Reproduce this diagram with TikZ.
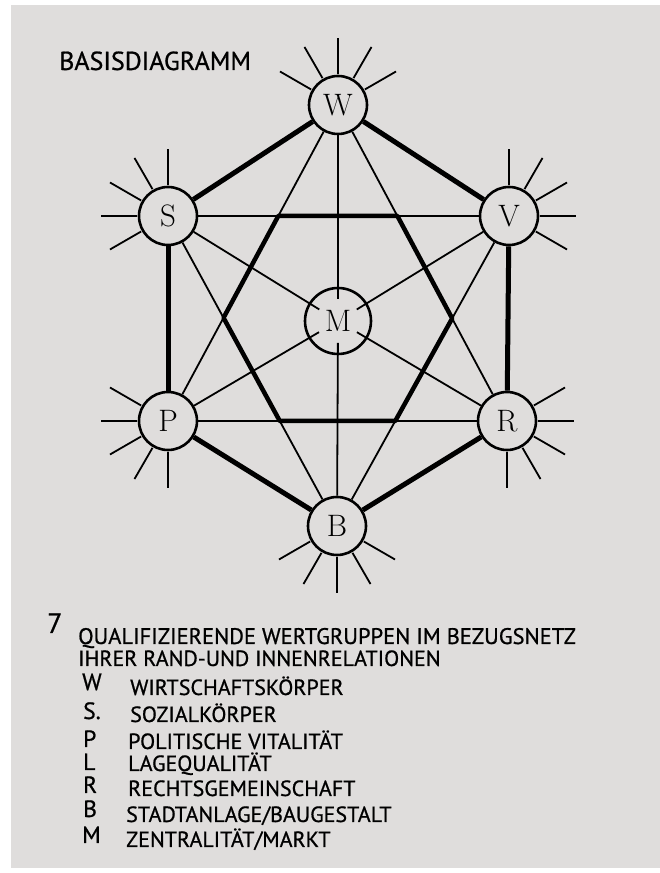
\documentclass[tikz,border=0pt]{standalone}
\usepackage{fontspec}
\usepackage{tikz}
\usetikzlibrary{calc}
\newfontfamily\handfont[FakeBold=0.8]{PT Sans}
\definecolor{paper}{RGB}{223,221,220}

\begin{document}
\begin{tikzpicture}[
        x=1pt, y=1pt,
        knot/.style={circle, draw, line width=2.6pt, minimum size=58pt, inner sep=0pt, font=\fontsize{31}{31}\selectfont},
        rim/.style={line width=5pt},
        link/.style={line width=1.8pt},
        ray/.style={line width=1.8pt},
        title/.style={anchor=base west, inner sep=0pt, text depth=0pt, font=\handfont\fontsize{26}{26}\selectfont},
        legtext/.style={anchor=base west, inner sep=0pt, text depth=0pt, text height=15pt, font=\handfont\fontsize{22}{22}\selectfont},
        legkey/.style={anchor=base west, inner sep=0pt, text depth=0pt, font=\handfont\fontsize{23.5}{23.5}\selectfont}
    ]
        % Paper
        \useasboundingbox (0,0) rectangle (660,873);
        \fill[white] (0,0) rectangle (660,873);
        \fill[paper] (11,5) rectangle (660,868);

        \node[title] (head) at (59,803) {BASISDIAGRAMM};

        % Value groups
        \node[knot] (W) at (338,768) {W};
        \node[knot] (S) at (168,657) {S};
        \node[knot] (V) at (509,657) {V};
        \node[knot, minimum size=66pt] (M) at (338,552) {M};
        \node[knot] (P) at (168,452) {P};
        \node[knot] (R) at (507,452) {R};
        \node[knot] (B) at (337,347) {B};

        % Outer hexagon
        \draw[rim] (W) -- (V);
        \draw[rim] (V) -- (R);
        \draw[rim] (R) -- (B);
        \draw[rim] (B) -- (P);
        \draw[rim] (P) -- (S);
        \draw[rim] (S) -- (W);

        % Two triangles
        \draw[link] (W) -- (P);
        \draw[link] (W) -- (R);
        \draw[link] (P) -- (R);
        \draw[link] (S) -- (V);
        \draw[link] (S) -- (B);
        \draw[link] (V) -- (B);

        % Inner hexagon
        \draw[rim, line width=4.5pt, line join=round]
            (intersection of S.center--V.center and W.center--P.center)
         -- (intersection of S.center--V.center and W.center--R.center)
         -- (intersection of W.center--R.center and V.center--B.center)
         -- (intersection of V.center--B.center and P.center--R.center)
         -- (intersection of P.center--R.center and S.center--B.center)
         -- (intersection of S.center--B.center and W.center--P.center)
         -- cycle;

        % Spokes into M
        \foreach \n in {W,V,R,B,P,S}
            \draw[link] (\n) -- ($(M.center)!22pt!(\n.center)$);

        % Rays
        \foreach \n/\c in {W/90, V/30, R/-30, B/-90, P/210, S/150}
            \foreach \d in {-60,-30,...,60}
                \draw[ray] (\n.center) ++(\c+\d:31) -- ++(\c+\d:36);

        % Legend
        \node[legkey, font=\handfont\fontsize{28}{28}\selectfont] (seven) at (47,240) {7};
        \node[legtext, font=\handfont\fontsize{22.5}{22.5}\selectfont] (line1) at (78,229) {QUALIFIZIERENDE WERTGRUPPEN IM BEZUGSNETZ};
        \node[legtext] (line2) at (78,207) {IHRER RAND-UND INNENRELATIONEN};

        \node[legkey] (keyW) at (82,183) {W};
        \node[legkey] (keyS) at (83,154) {S.};
        \node[legkey] (keyP) at (83,126) {P};
        \node[legkey] (keyL) at (83,103) {L};
        \node[legkey] (keyR) at (83,80) {R};
        \node[legkey] (keyB) at (83,56) {B};
        \node[legkey] (keyM) at (82,30) {M};

        \node[legtext] (txtW) at (130,178) {WIRTSCHAFTSKÖRPER};
        \node[legtext] (txtS) at (130,151) {SOZIALKÖRPER};
        \node[legtext] (txtP) at (128,124) {POLITISCHE VITALITÄT};
        \node[legtext] (txtL) at (128,102) {LAGEQUALITÄT};
        \node[legtext] (txtR) at (128,77) {RECHTSGEMEINSCHAFT};
        \node[legtext] (txtB) at (126,51) {STADTANLAGE/BAUGESTALT};
        \node[legtext] (txtM) at (126,26) {ZENTRALITÄT/MARKT};
\end{tikzpicture}
\end{document}
